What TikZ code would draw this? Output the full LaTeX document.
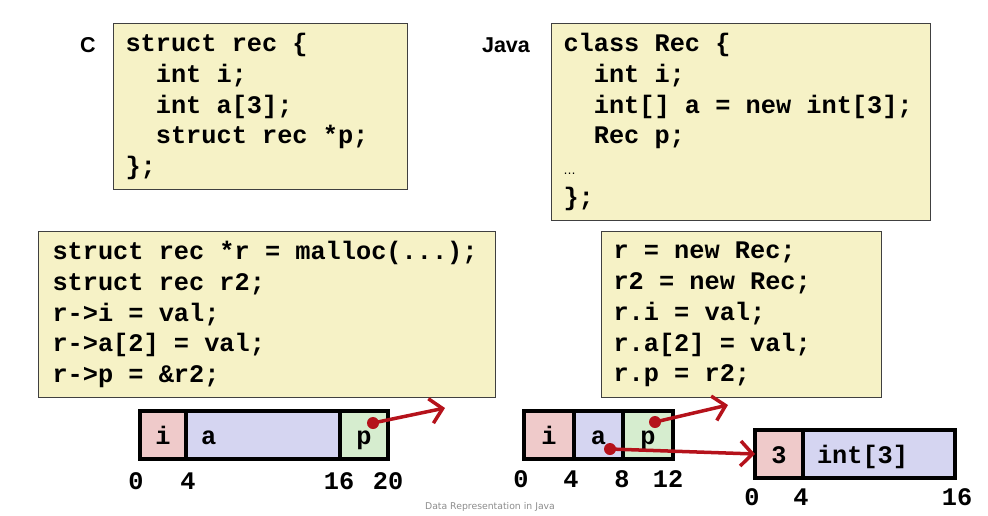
\documentclass[tikz,border=0pt]{standalone}
\usepackage{fontspec}
\setmainfont{Liberation Sans}
\newfontfamily\codefam{Liberation Mono}
\newfontfamily\footfont{DejaVu Sans}
\usepackage{tikz}
\usetikzlibrary{arrows.meta,positioning}
\definecolor{codeyellow}{HTML}{F6F2C6}
\definecolor{cellred}{HTML}{EFCACA}
\definecolor{cellblue}{HTML}{D5D5F1}
\definecolor{cellgreen}{HTML}{D6EDCF}
\definecolor{ptrred}{HTML}{B5121B}
\newcommand{\codefont}{\codefam\bfseries\fontsize{25.3}{30.8}\selectfont}
\newcommand{\ind}{\hphantom{xx}}

\begin{document}
\begin{tikzpicture}[x=1pt,y=-1pt,
    codebox/.style={draw=black!75, line width=1pt, fill=codeyellow, anchor=north west,
      align=left, inner xsep=12pt, inner ysep=0pt, font=\codefont,
      execute at begin node={\spaceskip=0.6em\xspaceskip=0.6em\relax}},
    lang/.style={font=\bfseries\fontsize{21.5}{21.5}\selectfont},
    cell/.style={draw, line width=3.5pt, minimum height=48pt, inner sep=0pt, outer sep=0pt,
      text height=18pt, text depth=0pt, font=\codefont},
    offset/.style={font=\codefont, inner sep=0pt},
    dot/.style={circle, fill=ptrred, minimum size=12pt, inner sep=0pt},
    ptr/.style={draw=ptrred, line width=3.5pt, -{Straight Barb[length=12pt,width=25pt]}}]
    \useasboundingbox (0,0) rectangle (988,515);
    %% declarations
    \node[lang] (langc) at (88,45) {C};
    \node[codebox, text width=270pt, minimum height=166pt] (cdecl) at (113,23)
      {struct rec \{\\ \ind int i;\\ \ind int a[3];\\ \ind struct rec *p;\\ \};};
    \node[lang] (langj) at (506,45) {Java};
    \node[codebox, text width=355pt, minimum height=197pt] (jdecl) at (551,23)
      {class Rec \{\\ \ind int i;\\ \ind int[] a = new int[3];\\ \ind Rec p;\\
       {\footfont\mdseries\fontsize{12}{12}\selectfont\textellipsis}\\ \};};
    %% usage
    \node[codebox, inner xsep=14pt, text width=429pt, minimum height=166pt] (cuse) at (38,231)
      {struct rec *r = malloc(...);\\ struct rec r2;\\ r->i = val;\\ r->a[2] = val;\\ r->p = \&r2;};
    \node[codebox, text width=256pt, minimum height=166pt] (juse) at (601,231)
      {r = new Rec;\\ r2 = new Rec;\\ r.i = val;\\ r.a[2] = val;\\ r.p = r2;};
    %% C layout
    \node[cell, fill=cellred, minimum width=46pt, anchor=west] (ci) at (140,435) {i};
    \node[cell, fill=cellblue, text width=124pt, inner xsep=15pt, align=left, right=0pt of ci] (ca) {a};
    \node[cell, fill=cellgreen, minimum width=48pt, right=0pt of ca] (cp) {p};
    \node[offset] (c0) at (136,481) {0};
    \node[offset] (c4) at (188,481) {4};
    \node[offset] (c16) at (339,481) {16};
    \node[offset] (c20) at (388,481) {20};
    %% Java layout
    \node[cell, fill=cellred, minimum width=50pt, anchor=west] (ji) at (524,435) {i};
    \node[cell, fill=cellblue, minimum width=49pt, right=0pt of ji] (ja) {a};
    \node[cell, fill=cellgreen, minimum width=50pt, right=0pt of ja] (jp) {p};
    \node[offset] (j0) at (521,479) {0};
    \node[offset] (j4) at (571,479) {4};
    \node[offset] (j8) at (622,479) {8};
    \node[offset] (j12) at (668,479) {12};
    \node[cell, fill=cellred, minimum width=48pt, anchor=west] (n3) at (755,454) {3};
    \node[cell, fill=cellblue, text width=124pt, inner xsep=14pt, align=left, right=0pt of n3] (narr) {int[3]};
    \node[offset] (n0) at (752,497) {0};
    \node[offset] (n4) at (801,497) {4};
    \node[offset] (n16) at (957,497) {16};
    %% pointers
    \coordinate (cend) at (445,408);
    \coordinate (jend) at (728,405);
    \node[dot] (cpdot) at (373,423) {};
    \node[dot] (jpdot) at (655,422) {};
    \node[dot] (jadot) at (610,449) {};
    \draw[ptr] (cpdot.center) -- (cend);
    \draw[ptr] (jpdot.center) -- (jend);
    \draw[ptr] (jadot.center) -- (n3.west);
    \node[text=black!45, font=\footfont\fontsize{9.3}{9.3}\selectfont] (foot) at (490,507) {Data Representation in Java};
\end{tikzpicture}
\end{document}
